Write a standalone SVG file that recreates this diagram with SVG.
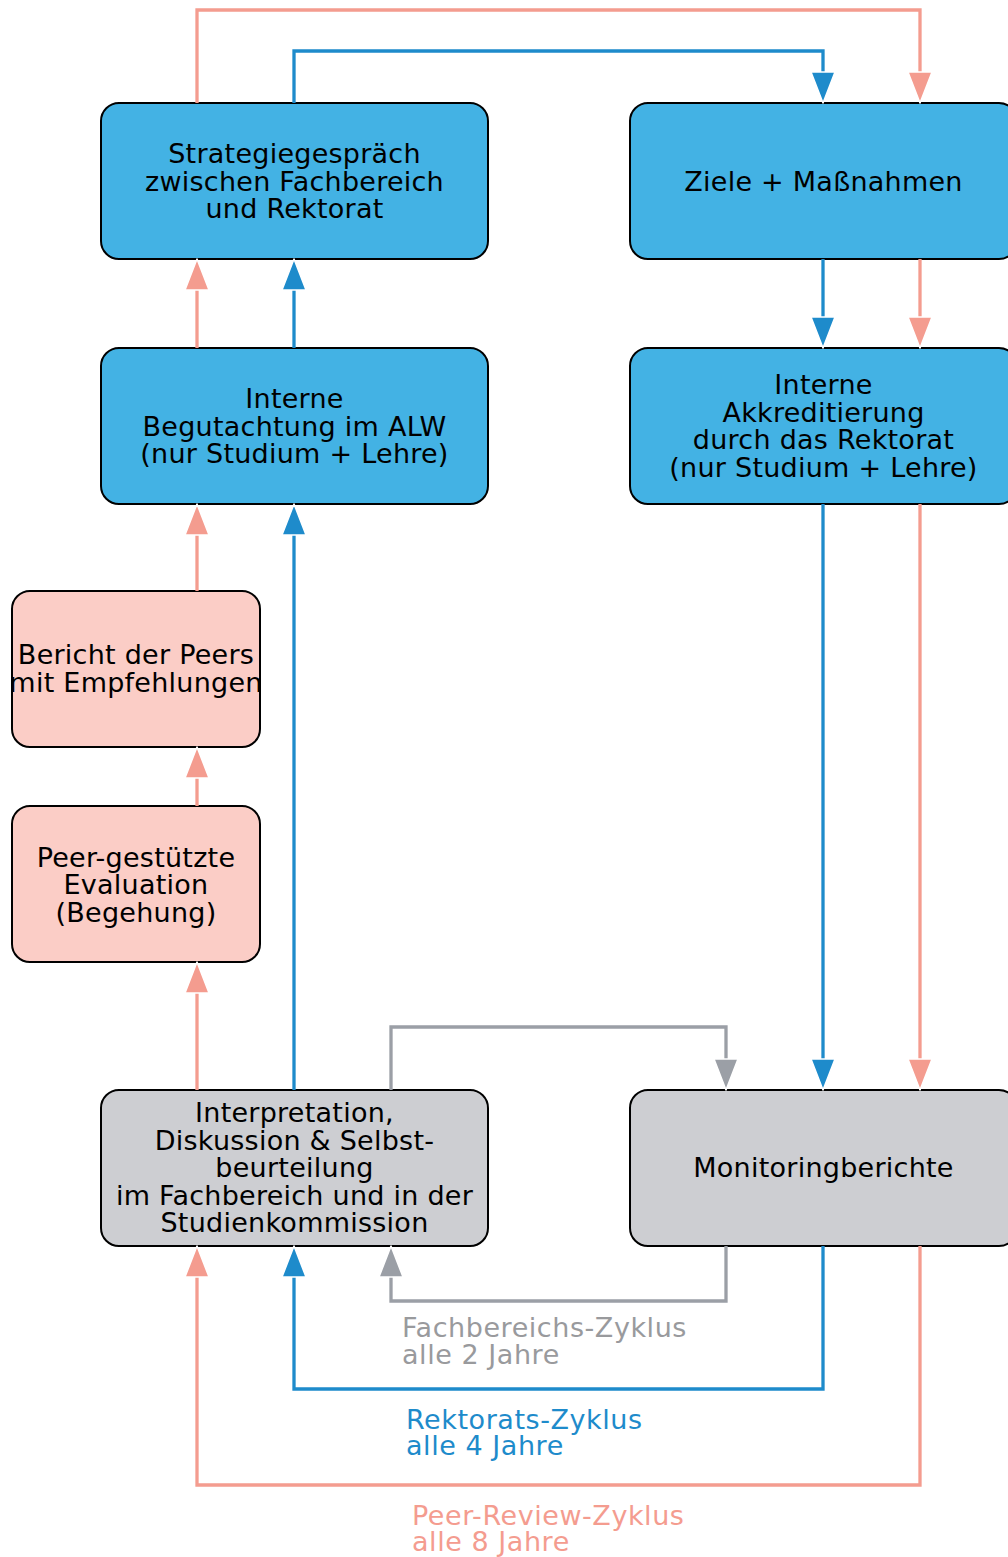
<svg xmlns="http://www.w3.org/2000/svg" width="1008" height="1557" viewBox="0 0 1008 1557">
<style>
.box{stroke:#000;stroke-width:2}
.blue{fill:#43b2e4}
.pink{fill:#fbcdc6}
.grey{fill:#cdced2}
.t{font-family:"DejaVu Sans","Verdana",sans-serif;font-size:27px;fill:#000;text-anchor:middle;letter-spacing:0.25px}
.lbl{font-family:"DejaVu Sans","Verdana",sans-serif;font-size:27px;letter-spacing:0.55px}
.c{fill:none;stroke-width:3.3;stroke-linejoin:miter}
.cb{stroke:#1e8bcb}
.cs{stroke:#f49c8f}
.cg{stroke:#9b9fa6}
</style>
<defs>
<marker id="ab" markerUnits="userSpaceOnUse" viewBox="-2 -14 36 28" markerWidth="36" markerHeight="28" refX="11" refY="0" orient="auto"><path d="M0,-12 L31,0 L0,12 Z" fill="#1e8bcb" stroke="#fff" stroke-width="1.5" stroke-linejoin="round"/></marker>
<marker id="as" markerUnits="userSpaceOnUse" viewBox="-2 -14 36 28" markerWidth="36" markerHeight="28" refX="11" refY="0" orient="auto"><path d="M0,-12 L31,0 L0,12 Z" fill="#f49c8f" stroke="#fff" stroke-width="1.5" stroke-linejoin="round"/></marker>
<marker id="ag" markerUnits="userSpaceOnUse" viewBox="-2 -14 36 28" markerWidth="36" markerHeight="28" refX="11" refY="0" orient="auto"><path d="M0,-12 L31,0 L0,12 Z" fill="#9b9fa6" stroke="#fff" stroke-width="1.5" stroke-linejoin="round"/></marker>
</defs>
<rect width="1008" height="1557" fill="#fff"/>
<g id="strategiegespraech">
<rect class="box blue" x="101" y="103" width="387" height="156" rx="18"/>
<text class="t" x="294.5" y="163">Strategiegespräch</text>
<text class="t" x="294.5" y="190.5">zwischen Fachbereich</text>
<text class="t" x="294.5" y="218">und Rektorat</text>
</g>
<g id="ziele">
<rect class="box blue" x="630" y="103" width="387" height="156" rx="18"/>
<text class="t" x="823.5" y="190.5">Ziele + Maßnahmen</text>
</g>
<g id="begutachtung">
<rect class="box blue" x="101" y="348" width="387" height="156" rx="18"/>
<text class="t" x="294.5" y="408">Interne</text>
<text class="t" x="294.5" y="435.5">Begutachtung im ALW</text>
<text class="t" x="294.5" y="463">(nur Studium + Lehre)</text>
</g>
<g id="akkreditierung">
<rect class="box blue" x="630" y="348" width="387" height="156" rx="18"/>
<text class="t" x="823.5" y="394">Interne</text>
<text class="t" x="823.5" y="421.5">Akkreditierung</text>
<text class="t" x="823.5" y="449">durch das Rektorat</text>
<text class="t" x="823.5" y="476.5">(nur Studium + Lehre)</text>
</g>
<g id="bericht">
<rect class="box pink" x="12" y="591" width="248" height="156" rx="18"/>
<text class="t" x="136" y="664">Bericht der Peers</text>
<text class="t" x="136" y="691.5">mit Empfehlungen</text>
</g>
<g id="evaluation">
<rect class="box pink" x="12" y="806" width="248" height="156" rx="18"/>
<text class="t" x="136" y="866.5">Peer-gestützte</text>
<text class="t" x="136" y="894">Evaluation</text>
<text class="t" x="136" y="921.5">(Begehung)</text>
</g>
<g id="interpretation">
<rect class="box grey" x="101" y="1090" width="387" height="156" rx="18"/>
<text class="t" x="294.5" y="1122">Interpretation,</text>
<text class="t" x="294.5" y="1149.5">Diskussion &amp; Selbst-</text>
<text class="t" x="294.5" y="1177">beurteilung</text>
<text class="t" x="294.5" y="1204.5">im Fachbereich und in der</text>
<text class="t" x="294.5" y="1232">Studienkommission</text>
</g>
<g id="monitoring">
<rect class="box grey" x="630" y="1090" width="387" height="156" rx="18"/>
<text class="t" x="823.5" y="1177">Monitoringberichte</text>
</g>
<g id="connectors">
<path class="c cs" d="M197,103 V10 H920 V83" marker-end="url(#as)"/>
<path class="c cb" d="M294,103 V51 H823 V83" marker-end="url(#ab)"/>
<path class="c cb" d="M823,259 V328" marker-end="url(#ab)"/>
<path class="c cs" d="M920,259 V328" marker-end="url(#as)"/>
<path class="c cs" d="M197,348 V279" marker-end="url(#as)"/>
<path class="c cb" d="M294,348 V279" marker-end="url(#ab)"/>
<path class="c cs" d="M197,591 V524" marker-end="url(#as)"/>
<path class="c cs" d="M197,806 V767" marker-end="url(#as)"/>
<path class="c cs" d="M197,1090 V982" marker-end="url(#as)"/>
<path class="c cb" d="M294,1090 V524" marker-end="url(#ab)"/>
<path class="c cg" d="M391,1090 V1027 H726 V1070" marker-end="url(#ag)"/>
<path class="c cb" d="M823,504 V1070" marker-end="url(#ab)"/>
<path class="c cs" d="M920,504 V1070" marker-end="url(#as)"/>
<path class="c cg" d="M726,1246 V1301 H391 V1266" marker-end="url(#ag)"/>
<path class="c cb" d="M823,1246 V1389 H294 V1266" marker-end="url(#ab)"/>
<path class="c cs" d="M920,1246 V1485 H197 V1266" marker-end="url(#as)"/>
</g>
<g id="labels">
<text class="lbl" x="402" y="1337" fill="#999a9d">Fachbereichs-Zyklus</text>
<text class="lbl" x="402" y="1363.5" fill="#999a9d">alle 2 Jahre</text>
<text class="lbl" x="406" y="1428.5" fill="#1e8bcb">Rektorats-Zyklus</text>
<text class="lbl" x="406" y="1455" fill="#1e8bcb">alle 4 Jahre</text>
<text class="lbl" x="412" y="1525" fill="#f49c8f">Peer-Review-Zyklus</text>
<text class="lbl" x="412" y="1551" fill="#f49c8f">alle 8 Jahre</text>
</g>
</svg>
